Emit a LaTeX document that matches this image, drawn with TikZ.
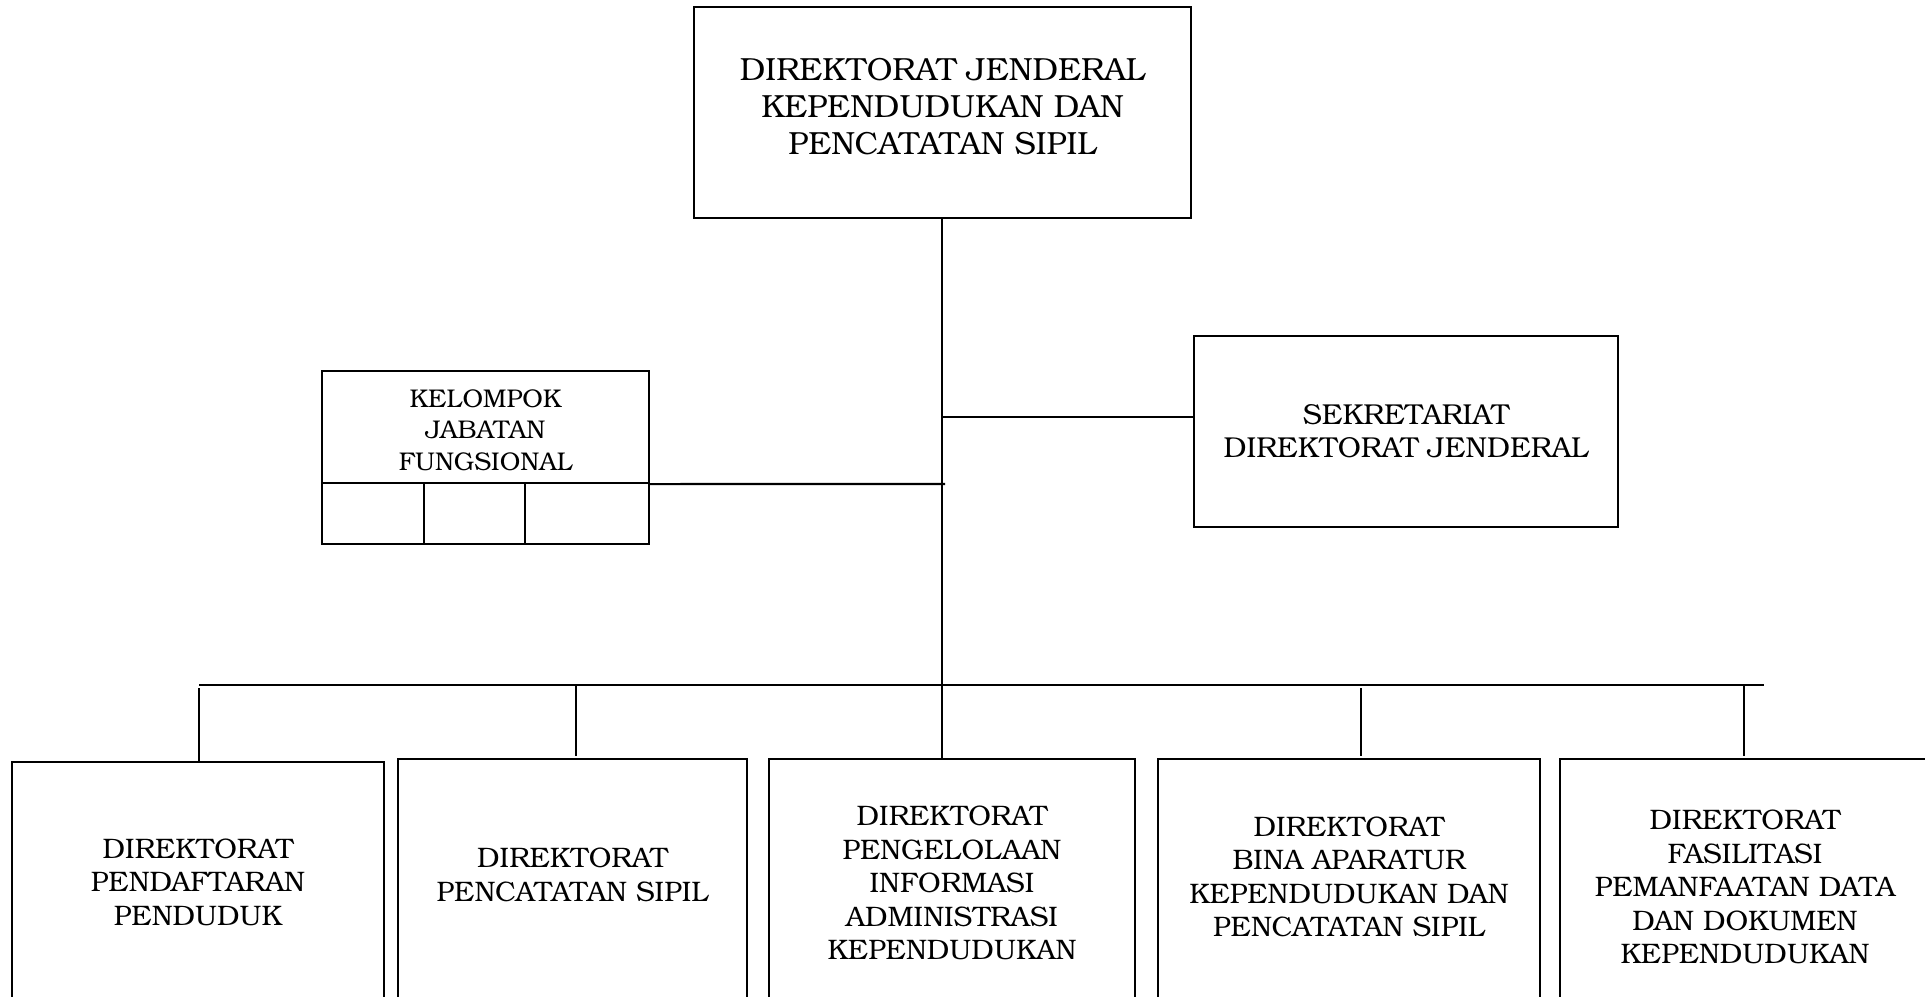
\documentclass[tikz,border=0pt]{standalone}
\usepackage{fontspec}
\setmainfont{TeX Gyre Bonum}
\usetikzlibrary{fit}
\begin{document}
\begin{tikzpicture}[x=0.5pt,y=-0.5pt,
  boxn/.style={draw, line width=1.1pt, rectangle, inner sep=0pt, fit={#1}},
  link/.style={draw, line width=1.1pt},
  bigtxt/.style={align=center, inner sep=0pt, font=\fontsize{16}{18.5}\selectfont},
  midtxt/.style={align=center, inner sep=0pt, font=\fontsize{14.4}{16.6}\selectfont},
  smalltxt/.style={align=center, inner sep=0pt, font=\fontsize{14.1}{16.7}\selectfont},
  kjftxt/.style={align=center, inner sep=0pt, font=\fontsize{12.8}{15.8}\selectfont}
]
\useasboundingbox (0,0) rectangle (1925,996);
\begin{scope}
\clip (0,0) rectangle (1925,996);

% top box
\node[boxn={(694,7) (1191,218)}] (top) {};
\node[bigtxt] (ttop) at (942.5,107) {DIREKTORAT JENDERAL\\KEPENDUDUKAN DAN\\PENCATATAN SIPIL};

% sekretariat
\node[boxn={(1194,336) (1618,527)}] (sek) {};
\node[midtxt] (tsek) at (1406,431) {SEKRETARIAT\\DIREKTORAT JENDERAL};

% kelompok jabatan fungsional
\node[boxn={(322,371) (649,483)}] (kjf) {};
\node[kjftxt] (tkjf) at (485.5,430) {KELOMPOK\\JABATAN\\FUNGSIONAL};
\node[boxn={(322,483) (424,544)}] (kjfa) {};
\node[boxn={(424,483) (525,544)}] (kjfb) {};
\node[boxn={(525,483) (649,544)}] (kjfc) {};

% bottom boxes
\node[boxn={(12,762) (384,1020)}] (b1) {};
\node[boxn={(398,759) (747,1020)}] (b2) {};
\node[boxn={(769,759) (1135,1020)}] (b3) {};
\node[boxn={(1158,759) (1540,1020)}] (b4) {};
\node[boxn={(1560,759) (1935,1020)}] (b5) {};

\node[smalltxt] (t1) at (198,882) {DIREKTORAT\\PENDAFTARAN\\PENDUDUK};
\node[smalltxt] (t2) at (572.5,875) {DIREKTORAT\\PENCATATAN SIPIL};
\node[smalltxt] (t3) at (952,883) {DIREKTORAT\\PENGELOLAAN\\INFORMASI\\ADMINISTRASI\\KEPENDUDUKAN};
\node[smalltxt] (t4) at (1349,877) {DIREKTORAT\\BINA APARATUR\\KEPENDUDUKAN DAN\\PENCATATAN SIPIL};
\node[smalltxt] (t5) at (1745,887) {DIREKTORAT\\FASILITASI\\PEMANFAATAN DATA\\DAN DOKUMEN\\KEPENDUDUKAN};

% connectors
\coordinate (jsek) at (942,417);
\coordinate (jkjf) at (945,484);
\coordinate (busL) at (199,685);
\coordinate (busR) at (1764,685);
\coordinate (d1) at (199,688);
\coordinate (d2) at (576,685);
\coordinate (d4) at (1361,688);
\coordinate (d5) at (1744,685);

\draw[link] (top.south -| jsek) -- (b3.north -| jsek);
\draw[link] (jsek) -- (sek.west |- jsek);
\draw[link] (kjf.south east) -- (jkjf);
\draw[link] (busL) -- (busR);
\draw[link] (d1) -- (d1 |- b1.north);
\draw[link] (d2) -- ([yshift=1pt]d2 |- b2.north);
\draw[link] (d4) -- ([yshift=1pt]d4 |- b4.north);
\draw[link] (d5) -- ([yshift=1pt]d5 |- b5.north);
\end{scope}
\end{tikzpicture}
\end{document}
